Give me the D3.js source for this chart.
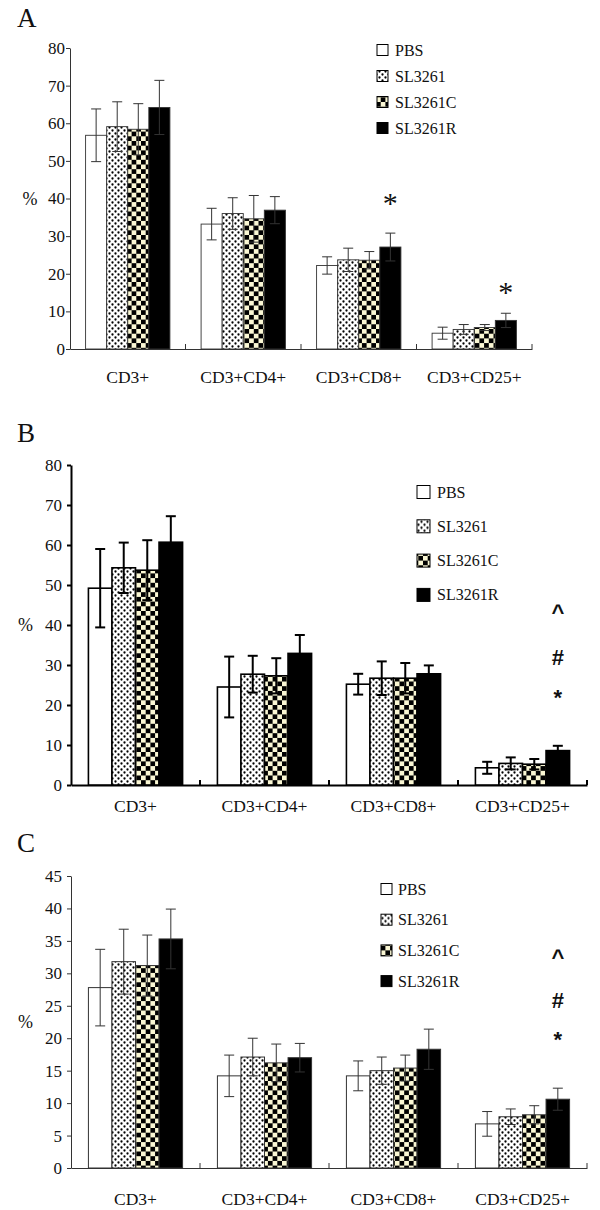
<!DOCTYPE html>
<meta charset="utf-8">
<script src="https://d3js.org/d3.v7.min.js"></script>
<style>
body { margin: 0; background: #fff; }
svg { font-family: "Liberation Serif", "Times New Roman", serif; }
</style>
<body></body>
<script>

// ---- data ----
var categories = ["CD3+", "CD3+CD4+", "CD3+CD8+", "CD3+CD25+"];
var groups = ["PBS", "SL3261", "SL3261C", "SL3261R"];

var yTicksA = [0, 10, 20, 30, 40, 50, 60, 70, 80];
var yTicksB = [0, 10, 20, 30, 40, 50, 60, 70, 80];
var yTicksC = [0, 5, 10, 15, 20, 25, 30, 35, 40, 45];

// rows = categories, columns = groups
var meanA = [[56.8, 59.1, 58.4, 64.2], [33.2, 36.0, 34.6, 36.9], [22.2, 23.7, 23.6, 27.1], [4.2, 5.2, 5.7, 7.6]];
var errA  = [[7.0, 6.6, 6.8, 7.2], [4.2, 4.2, 6.2, 3.6], [2.3, 3.1, 2.3, 3.7], [1.6, 1.3, 0.8, 1.9]];

var meanB = [[49.2, 54.3, 53.7, 60.7], [24.5, 27.7, 27.3, 32.9], [25.2, 26.7, 26.7, 27.8], [4.3, 5.4, 5.2, 8.6]];
var errB  = [[9.8, 6.3, 7.5, 6.5], [7.6, 4.6, 4.4, 4.6], [2.6, 4.2, 3.8, 2.1], [1.5, 1.5, 1.3, 1.2]];

var meanC = [[27.8, 31.8, 31.2, 35.3], [14.2, 17.1, 16.2, 17.0], [14.2, 15.0, 15.4, 18.3], [6.8, 7.9, 8.2, 10.6]];
var errC  = [[5.9, 5.0, 4.7, 4.6], [3.2, 2.9, 2.9, 2.2], [2.3, 2.1, 2.0, 3.1], [1.9, 1.2, 1.4, 1.7]];

// significance marks: category, symbol, level (in % units) where the mark sits
var marksA = [{cat: "CD3+CD8+", text: "*", at: 40}, {cat: "CD3+CD25+", text: "*", at: 16.2}];
var marksB = [{cat: "CD3+CD25+", text: "^", at: 44.2}, {cat: "CD3+CD25+", text: "#", at: 32}, {cat: "CD3+CD25+", text: "*", at: 23}];
var marksC = [{cat: "CD3+CD25+", text: "^", at: 33.1}, {cat: "CD3+CD25+", text: "#", at: 25.9}, {cat: "CD3+CD25+", text: "*", at: 20.5}];

// ---- layout ----
var panels = [
  {letter: "A", means: meanA, errs: errA, ticks: yTicksA, marks: marksA,
   x0: 70, x1: 532, zero: 349, top: 48, lw: 1, ink: "#333", barLw: 0.9,
   tickPad: 1, labelDrop: 34, letterY: 27, pctX: 30,
   legX: 377, legSize: 11, legY: 50, legStep: 26, legTextX: 395,
   markFont: "Liberation Serif", markWeight: "normal", markSize: 30},
  {letter: "B", means: meanB, errs: errB, ticks: yTicksB, marks: marksB,
   x0: 71, x1: 587, zero: 785, top: 465, lw: 2, ink: "#000", barLw: 1.6,
   tickPad: 5, labelDrop: 26.5, letterY: 442, pctX: 25.5,
   legX: 417, legSize: 13, legY: 492, legStep: 34.3, legTextX: 437,
   markFont: "Liberation Sans", markWeight: "bold", markSize: 22},
  {letter: "C", means: meanC, errs: errC, ticks: yTicksC, marks: marksC,
   x0: 71, x1: 587, zero: 1168, top: 876, lw: 1, ink: "#333", barLw: 1,
   tickPad: 5, labelDrop: 37, letterY: 852, pctX: 25.5,
   legX: 381, legSize: 11, legY: 889, legStep: 30.7, legTextX: 398,
   markFont: "Liberation Sans", markWeight: "bold", markSize: 22}
];

var svg = d3.select("body").append("svg")
    .attr("width", 600)
    .attr("height", 1210);

// fill patterns
var defs = svg.append("defs");
var dots = defs.append("pattern").attr("id", "dots")
    .attr("patternUnits", "userSpaceOnUse").attr("width", 6).attr("height", 6);
dots.append("rect").attr("width", 6).attr("height", 6).attr("fill", "#fff");
dots.append("circle").attr("cx", 1.5).attr("cy", 1.5).attr("r", 1.15).attr("fill", "#000");
dots.append("circle").attr("cx", 4.5).attr("cy", 4.5).attr("r", 1.15).attr("fill", "#000");

var cell = 4.7;
var chk = defs.append("pattern").attr("id", "checker")
    .attr("patternUnits", "userSpaceOnUse").attr("width", cell * 2).attr("height", cell * 2);
chk.append("rect").attr("width", cell * 2).attr("height", cell * 2).attr("fill", "#faf7d4");
chk.append("rect").attr("width", cell).attr("height", cell).attr("fill", "#000");
chk.append("rect").attr("x", cell).attr("y", cell).attr("width", cell).attr("height", cell).attr("fill", "#000");

var fills = {"PBS": "#fff", "SL3261": "url(#dots)", "SL3261C": "url(#checker)", "SL3261R": "#000"};

// glyph centre above baseline, in em
var glyphMid = {"*": 0.55, "#": 0.35, "^": 0.52};

panels.forEach(function(p) {
  var g = svg.append("g");

  var x = d3.scaleBand()
    .domain(categories)
    .range([p.x0, p.x1])
    .paddingInner(0.27)
    .paddingOuter(0.135);

  var xg = d3.scaleBand()
    .domain(groups)
    .range([0, x.bandwidth()]);

  var y = d3.scaleLinear()
    .domain([0, d3.max(p.ticks)])
    .range([p.zero, p.top]);

  // y axis
  var ya = g.append("g")
    .attr("transform", "translate(" + p.x0 + ",0)")
    .call(d3.axisLeft(y).tickValues(p.ticks).tickSize(4).tickSizeOuter(0).tickPadding(p.tickPad));
  ya.select(".domain").attr("stroke", p.ink).attr("stroke-width", p.lw);
  ya.selectAll(".tick line").attr("stroke", p.ink).attr("stroke-width", p.lw);
  ya.selectAll(".tick text")
    .attr("font-family", "Liberation Serif").attr("font-size", 17).attr("fill", "#111");

  // x axis with category labels
  var xa = g.append("g")
    .attr("transform", "translate(0," + p.zero + ")")
    .call(d3.axisBottom(x).tickSize(0).tickSizeOuter(0));
  xa.select(".domain").attr("stroke", p.ink).attr("stroke-width", p.lw);
  xa.selectAll(".tick text")
    .attr("y", p.labelDrop).attr("dy", 0)
    .attr("font-family", "Liberation Serif").attr("font-size", 17.5).attr("fill", "#111");

  // category boundary ticks (pointing up)
  var step = x.step(), gap = step - x.bandwidth();
  var bounds = categories.slice(1).map(function(c) { return x(c) - gap / 2; }).concat([p.x1]);
  g.selectAll(".btick").data(bounds).enter().append("line")
    .attr("x1", function(d) { return d; }).attr("x2", function(d) { return d; })
    .attr("y1", p.zero).attr("y2", p.zero - 5)
    .attr("stroke", p.ink).attr("stroke-width", p.lw);

  // bars
  var cells = [];
  categories.forEach(function(c, i) {
    groups.forEach(function(s, j) {
      cells.push({cat: c, grp: s, m: p.means[i][j], e: p.errs[i][j]});
    });
  });

  g.selectAll(".bar").data(cells).enter().append("rect")
    .attr("x", function(d) { return x(d.cat) + xg(d.grp); })
    .attr("y", function(d) { return y(d.m); })
    .attr("width", xg.bandwidth())
    .attr("height", function(d) { return p.zero - y(d.m); })
    .attr("fill", function(d) { return fills[d.grp]; })
    .attr("stroke", p.ink)
    .attr("stroke-width", p.barLw);

  // error bars
  var eb = g.selectAll(".err").data(cells).enter().append("g")
    .attr("transform", function(d) { return "translate(" + (x(d.cat) + xg(d.grp) + xg.bandwidth() / 2) + ",0)"; });
  eb.append("line")
    .attr("y1", function(d) { return y(d.m - d.e); })
    .attr("y2", function(d) { return y(d.m + d.e); });
  eb.append("line")
    .attr("x1", -5).attr("x2", 5)
    .attr("y1", function(d) { return y(d.m + d.e); })
    .attr("y2", function(d) { return y(d.m + d.e); });
  eb.append("line")
    .attr("x1", -5).attr("x2", 5)
    .attr("y1", function(d) { return y(d.m - d.e); })
    .attr("y2", function(d) { return y(d.m - d.e); });
  eb.selectAll("line").attr("stroke", p.ink).attr("stroke-width", p.lw);

  // significance marks above SL3261R bar
  g.selectAll(".mark").data(p.marks).enter().append("text")
    .attr("x", function(d) { return x(d.cat) + xg("SL3261R") + xg.bandwidth() / 2; })
    .attr("y", function(d) {
      var k = p.markWeight === "bold" ? glyphMid[d.text] : 0.47;
      return y(d.at) + k * p.markSize;
    })
    .attr("text-anchor", "middle")
    .attr("font-family", p.markFont)
    .attr("font-weight", p.markWeight)
    .attr("font-size", p.markSize)
    .attr("fill", "#111")
    .text(function(d) { return d.text; });

  // legend
  var lg = g.selectAll(".leg").data(groups).enter().append("g")
    .attr("transform", function(d, i) { return "translate(0," + (p.legY + i * p.legStep) + ")"; });
  lg.append("rect")
    .attr("x", p.legX).attr("y", -p.legSize / 2)
    .attr("width", p.legSize).attr("height", p.legSize)
    .attr("fill", function(d) { return fills[d]; })
    .attr("stroke", "#000").attr("stroke-width", 1);
  lg.append("text")
    .attr("x", p.legTextX).attr("y", 5.5)
    .attr("font-size", 16).attr("fill", "#111")
    .text(function(d) { return d; });

  // panel letter and unit
  g.append("text")
    .attr("x", 17).attr("y", p.letterY)
    .attr("font-size", 27).attr("fill", "#111")
    .text(p.letter);

  g.append("text")
    .attr("x", p.pctX).attr("y", y(d3.max(p.ticks) / 2) + 6)
    .attr("text-anchor", "middle")
    .attr("font-size", 18).attr("fill", "#111")
    .text("%");
});

</script>
